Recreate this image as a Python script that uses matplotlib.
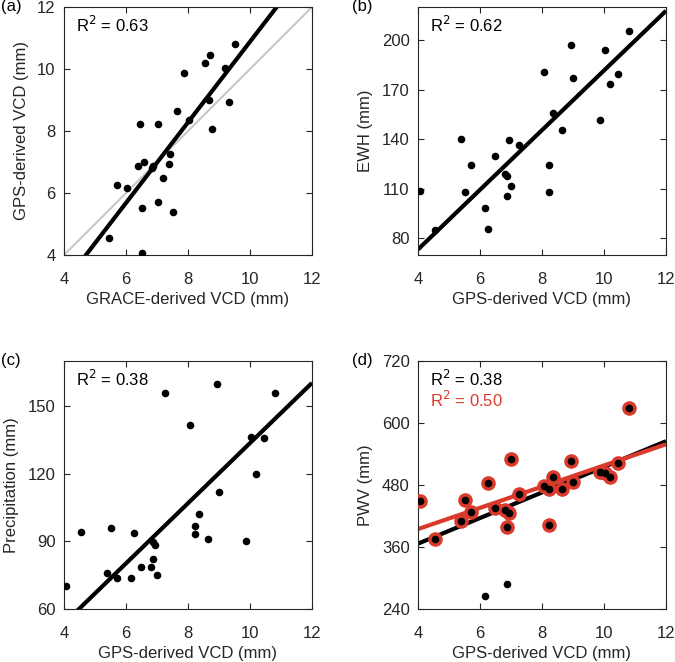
import numpy as np
import matplotlib
matplotlib.use('Agg')
import matplotlib.pyplot as plt

plt.rcParams['font.family'] = ['Liberation Sans', 'DejaVu Sans']
plt.rcParams['font.size'] = 12

# GPS-derived VCD (mm), one value per station
gps = [4.08, 4.54, 5.38, 5.53, 5.71, 6.16, 6.27, 6.49, 6.82, 6.86, 6.87, 6.95, 6.99,
       7.25, 8.05, 8.22, 8.22, 8.37, 8.64, 8.95, 8.99, 9.86, 10.03, 10.18, 10.45, 10.80]
# GRACE-derived VCD (mm)
grace = [6.53, 5.44, 7.53, 6.51, 7.04, 6.03, 5.72, 7.18, 6.83, 6.87, 6.38, 7.40, 6.59,
         7.43, 8.78, 6.45, 7.04, 8.02, 7.66, 9.31, 8.69, 7.88, 9.19, 8.55, 8.71, 9.52]
# EWH (mm)
ewh = [108.9, 85.2, 140.1, 108.1, 124.4, 98.7, 85.8, 129.6, 119.0, 117.6, 105.9, 139.5, 111.8,
       136.7, 180.9, 124.6, 108.1, 156.0, 145.5, 197.0, 177.1, 151.8, 193.8, 173.7, 179.7, 205.4]
# Precipitation (mm)
precip = [70.1, 94.0, 75.9, 95.9, 73.7, 73.8, 93.7, 78.7, 78.8, 89.6, 82.2, 88.4, 75.1,
          155.9, 141.8, 96.6, 93.4, 102.2, 91.2, 160.0, 112.1, 90.3, 136.3, 120.0, 136.0, 156.0]
# PWV (mm)
pwv = [449.7, 375.5, 410.3, 451.0, 427.1, 265.2, 483.2, 435.5, 431.0, 288.4, 399.4, 425.8, 531.0,
       462.0, 478.7, 471.6, 403.2, 494.8, 471.6, 527.1, 485.8, 505.8, 503.9, 495.5, 523.2, 628.4]
# stations kept in the red fit of panel (d)
keep = [True] * 26
keep[5] = False
keep[9] = False

# fitted lines (slope, intercept) as shown in panels a-c
fit_slope = [1.30, 18.04, 13.34]
fit_icept = [-2.12, 1.2, 0.2]

r2_text = ['0.63', '0.62', '0.38', '0.38']
r2_red = '0.50'

gps = np.array(gps)
grace = np.array(grace)
ewh = np.array(ewh)
precip = np.array(precip)
pwv = np.array(pwv)
keep = np.array(keep)

red = '#d93a2b'
axcol = '#262626'

fig = plt.figure(figsize=(6.75, 6.62), dpi=100)
w = 248 / 675
h = 248 / 662
pos = [(64 / 675, 1 - 255 / 662), (418 / 675, 1 - 255 / 662),
       (64 / 675, 1 - 609 / 662), (418 / 675, 1 - 609 / 662)]
axs = [fig.add_axes([p[0], p[1], w, h]) for p in pos]

xx = np.array([4, 12])

def style(ax, ylim, yticks, xlabel, ylabel):
    ax.set_xlim(4, 12)
    ax.set_ylim(*ylim)
    ax.set_xticks([4, 6, 8, 10, 12])
    ax.set_yticks(yticks)
    ax.tick_params(direction='in', top=True, right=True, length=4, width=0.8,
                   colors=axcol, labelsize=12, pad=6)
    ax.tick_params(axis='x', pad=12)
    for s in ax.spines.values():
        s.set_color(axcol)
        s.set_linewidth(0.8)
    ax.set_xlabel(xlabel, color=axcol, fontsize=12, labelpad=4)
    ax.set_ylabel(ylabel, color=axcol, fontsize=12, labelpad=6)

def line(ax, k, color, lw):
    ax.plot(xx, fit_slope[k] * xx + fit_icept[k], color=color, lw=lw, zorder=2,
            solid_capstyle='butt')

def fitline(ax, x, y, color, lw):
    p = np.polyfit(x, y, 1)
    ax.plot(xx, np.polyval(p, xx), color=color, lw=lw, zorder=2,
            solid_capstyle='butt')

# (a)
ax = axs[0]
ax.plot(xx, xx, color='#c8c8c8', lw=1.5, zorder=1)
line(ax, 0, 'black', 3)
ax.scatter(grace, gps, s=30, color='black', zorder=3, linewidths=0)
style(ax, (4, 12), [4, 6, 8, 10, 12], 'GRACE-derived VCD (mm)', 'GPS-derived VCD (mm)')

# (b)
ax = axs[1]
line(ax, 1, 'black', 3)
ax.scatter(gps, ewh, s=30, color='black', zorder=3, linewidths=0)
style(ax, (70, 220), [80, 110, 140, 170, 200], 'GPS-derived VCD (mm)', 'EWH (mm)')

# (c)
ax = axs[2]
line(ax, 2, 'black', 3)
ax.scatter(gps, precip, s=30, color='black', zorder=3, linewidths=0)
style(ax, (60, 170), [60, 90, 120, 150], 'GPS-derived VCD (mm)', 'Precipitation (mm)')

# (d)
ax = axs[3]
fitline(ax, gps, pwv, 'black', 3)
fitline(ax, gps[keep], pwv[keep], red, 3)
ax.scatter(gps[keep], pwv[keep], s=110, color=red, zorder=3, linewidths=0)
ax.scatter(gps, pwv, s=30, color='black', zorder=4, linewidths=0)
style(ax, (240, 720), [240, 360, 480, 600, 720], 'GPS-derived VCD (mm)', 'PWV (mm)')

for i, ax in enumerate(axs):
    ax.text(0.05, 0.97, 'R$^2$ = ' + r2_text[i], transform=ax.transAxes,
            ha='left', va='top', fontsize=12, color='black')
    lbl = '(' + 'abcd'[i] + ')'
    fig.text(0.002 if i % 2 == 0 else pos[i][0] - 66 / 675,
             pos[i][1] + h, lbl, ha='left', va='center', fontsize=12, color='black')
axs[3].text(0.05, 0.885, 'R$^2$ = ' + r2_red, transform=axs[3].transAxes,
            ha='left', va='top', fontsize=12, color=red)

fig.savefig('out.png', dpi=100)
